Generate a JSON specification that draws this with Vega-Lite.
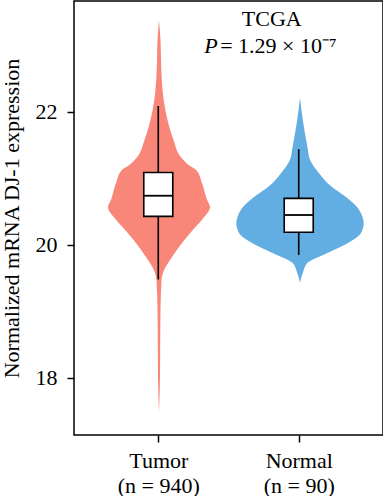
{
  "$schema": "https://vega.github.io/schema/vega-lite/v6.json",
  "width": 309,
  "height": 434,
  "padding": {"left": 0, "top": 1, "right": 2, "bottom": 0},
  "config": {
    "view": {"stroke": "black", "strokeWidth": 1.5},
    "font": "Liberation Serif",
    "axis": {
      "labelFont": "Liberation Serif", "labelFontSize": 22, "labelColor": "black",
      "titleFont": "Liberation Serif", "titleFontSize": 22, "titleFontWeight": "normal", "titleColor": "black",
      "tickColor": "black", "tickWidth": 1.5, "tickSize": 7, "domain": false, "grid": false
    }
  },
  "datasets": {
    "tumor": [
      {"expr": 23.38, "d": 0}, {"expr": 23.08, "d": 0.015}, {"expr": 22.78, "d": 0.02},
      {"expr": 22.48, "d": 0.028}, {"expr": 22.18, "d": 0.047}, {"expr": 21.88, "d": 0.085},
      {"expr": 21.58, "d": 0.145}, {"expr": 21.32, "d": 0.22}, {"expr": 21.2, "d": 0.3}, {"expr": 21.13, "d": 0.37},
      {"expr": 20.93, "d": 0.43}, {"expr": 20.68, "d": 0.48}, {"expr": 20.57, "d": 0.51},
      {"expr": 20.38, "d": 0.43}, {"expr": 20.23, "d": 0.34}, {"expr": 20.03, "d": 0.23},
      {"expr": 19.82, "d": 0.13}, {"expr": 19.62, "d": 0.05}, {"expr": 19.47, "d": 0.025},
      {"expr": 19.02, "d": 0.015}, {"expr": 18.53, "d": 0.012}, {"expr": 18.02, "d": 0.01},
      {"expr": 17.47, "d": 0}
    ],
    "normal": [
      {"expr": 22.21, "d": 0}, {"expr": 21.83, "d": 0.033}, {"expr": 21.47, "d": 0.075},
      {"expr": 21.28, "d": 0.10}, {"expr": 21.08, "d": 0.19}, {"expr": 20.87, "d": 0.32},
      {"expr": 20.72, "d": 0.46}, {"expr": 20.57, "d": 0.57}, {"expr": 20.42, "d": 0.625},
      {"expr": 20.33, "d": 0.637}, {"expr": 20.18, "d": 0.61}, {"expr": 20.03, "d": 0.48},
      {"expr": 19.88, "d": 0.275}, {"expr": 19.73, "d": 0.075}, {"expr": 19.59, "d": 0.03},
      {"expr": 19.43, "d": 0}
    ],
    "boxes": [
      {"group": "Tumor", "min": 19.48, "q1": 20.43, "median": 20.74, "q3": 21.09, "max": 22.09},
      {"group": "Normal", "min": 19.85, "q1": 20.19, "median": 20.45, "q3": 20.70, "max": 21.44}
    ]
  },
  "resolve": {"scale": {"x": "independent"}, "axis": {"x": "independent"}},
  "layer": [
    {
      "data": {"name": "tumor"},
      "mark": {"type": "area", "orient": "horizontal", "interpolate": "monotone", "color": "#F8877A", "opacity": 1},
      "encoding": {
        "y": {"field": "expr", "type": "quantitative", "title": "Normalized mRNA DJ-1 expression", "scale": {"domain": [17.14, 23.67], "nice": false, "zero": false}, "axis": {"values": [18, 20, 22], "format": "d", "labelPadding": 10, "titlePadding": 12}},
        "x": {"field": "d", "type": "quantitative", "scale": {"domain": [-0.85, 2.24], "nice": false, "zero": false}, "axis": null}
      }
    },
    {
      "data": {"name": "tumor"},
      "mark": {"type": "area", "orient": "horizontal", "interpolate": "monotone", "color": "#F8877A", "opacity": 1},
      "encoding": {
        "y": {"field": "expr", "type": "quantitative", "title": "Normalized mRNA DJ-1 expression", "scale": {"domain": [17.14, 23.67], "nice": false, "zero": false}},
        "x": {"field": "d", "type": "quantitative", "scale": {"domain": [-2.24, 0.85], "nice": false, "zero": false, "reverse": true}, "axis": null}
      }
    },
    {
      "data": {"name": "normal"},
      "mark": {"type": "area", "orient": "horizontal", "interpolate": "monotone", "color": "#62AEE2", "opacity": 1},
      "encoding": {
        "y": {"field": "expr", "type": "quantitative", "title": "Normalized mRNA DJ-1 expression", "scale": {"domain": [17.14, 23.67], "nice": false, "zero": false}},
        "x": {"field": "d", "type": "quantitative", "scale": {"domain": [-2.26, 0.83], "nice": false, "zero": false}, "axis": null}
      }
    },
    {
      "data": {"name": "normal"},
      "mark": {"type": "area", "orient": "horizontal", "interpolate": "monotone", "color": "#62AEE2", "opacity": 1},
      "encoding": {
        "y": {"field": "expr", "type": "quantitative", "title": "Normalized mRNA DJ-1 expression", "scale": {"domain": [17.14, 23.67], "nice": false, "zero": false}},
        "x": {"field": "d", "type": "quantitative", "scale": {"domain": [-0.83, 2.26], "nice": false, "zero": false, "reverse": true}, "axis": null}
      }
    },
    {
      "data": {"name": "boxes"},
      "encoding": {
        "x": {"field": "group", "type": "nominal", "sort": ["Tumor", "Normal"], "scale": {"type": "point", "padding": 0.6}, "title": null,
              "axis": {"labelAngle": 0, "labelPadding": 8, "labelLineHeight": 25,
                       "labelExpr": "datum.value == 'Tumor' ? ['Tumor', '(n = 940)'] : ['Normal', '(n = 90)']"}}
      },
      "layer": [
        {
          "mark": {"type": "rule", "color": "black", "strokeWidth": 1.6},
          "encoding": {
            "y": {"field": "min", "type": "quantitative", "title": "Normalized mRNA DJ-1 expression", "scale": {"domain": [17.14, 23.67], "nice": false, "zero": false}},
            "y2": {"field": "max"}
          }
        },
        {
          "mark": {"type": "bar", "size": 29, "fill": "white", "stroke": "black", "strokeWidth": 1.6},
          "encoding": {
            "y": {"field": "q1", "type": "quantitative", "title": "Normalized mRNA DJ-1 expression", "scale": {"domain": [17.14, 23.67], "nice": false, "zero": false}},
            "y2": {"field": "q3"}
          }
        },
        {
          "mark": {"type": "tick", "size": 29, "thickness": 1.8, "color": "black", "opacity": 1},
          "encoding": {
            "y": {"field": "median", "type": "quantitative", "title": "Normalized mRNA DJ-1 expression", "scale": {"domain": [17.14, 23.67], "nice": false, "zero": false}}
          }
        }
      ]
    },
    {
      "data": {"values": [{}]},
      "encoding": {
        "x": {"datum": 0.64, "type": "quantitative", "scale": {"domain": [0, 1], "nice": false, "zero": false}, "axis": null}
      },
      "layer": [
        {
          "mark": {"type": "text", "text": "TCGA", "fontSize": 22, "font": "Liberation Serif", "align": "center", "baseline": "alphabetic", "color": "black"},
          "encoding": {"y": {"datum": 23.29, "type": "quantitative", "title": "Normalized mRNA DJ-1 expression", "scale": {"domain": [17.14, 23.67], "nice": false, "zero": false}}}
        },
        {
          "mark": {"type": "text", "text": "P", "fontSize": 22, "font": "Liberation Serif", "fontStyle": "italic", "align": "right", "baseline": "alphabetic", "color": "black"},
          "encoding": {
            "x": {"datum": 0.465, "type": "quantitative"},
            "y": {"datum": 22.89, "type": "quantitative", "title": "Normalized mRNA DJ-1 expression", "scale": {"domain": [17.14, 23.67], "nice": false, "zero": false}}}
        },
        {
          "mark": {"type": "text", "text": "= 1.29 × 10⁻⁷", "fontSize": 22, "font": "Liberation Serif", "align": "left", "baseline": "alphabetic", "color": "black"},
          "encoding": {
            "x": {"datum": 0.473, "type": "quantitative"},
            "y": {"datum": 22.89, "type": "quantitative", "title": "Normalized mRNA DJ-1 expression", "scale": {"domain": [17.14, 23.67], "nice": false, "zero": false}}}
        }
      ]
    }
  ]
}
